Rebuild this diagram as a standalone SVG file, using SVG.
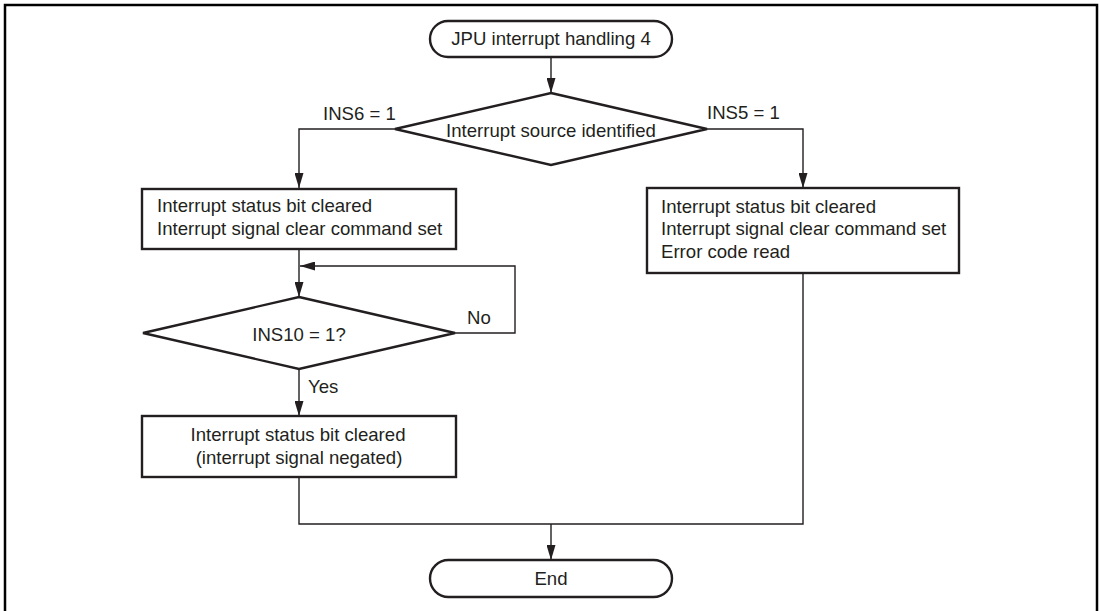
<svg xmlns="http://www.w3.org/2000/svg" width="1100" height="611" viewBox="0 0 1100 611">
<style>
.node{fill:#fff;stroke:#231f20;stroke-width:2.4}
.frame{fill:none;stroke:#000;stroke-width:2.5}
.conn{fill:none;stroke:#231f20;stroke-width:1.4}
text{font-family:"Liberation Sans",Arial,sans-serif;font-size:18.6px;fill:#231f20}
.c{text-anchor:middle}
</style>
<defs>
<marker id="arr" markerUnits="userSpaceOnUse" markerWidth="15" markerHeight="9" refX="15" refY="4.5" orient="auto" viewBox="0 0 15 9">
<path d="M0,0 L15,4.5 L0,9 Z" fill="#231f20"/>
</marker>
</defs>
<rect x="0" y="0" width="1100" height="611" fill="#fff"/>
<path class="frame" d="M5,615 V5 H1097 V615"/>
<g id="connectors">
<path class="conn" d="M551,57 V93" marker-end="url(#arr)"/>
<path class="conn" d="M395,129 H299 V188" marker-end="url(#arr)"/>
<path class="conn" d="M707,129 H803 V188" marker-end="url(#arr)"/>
<path class="conn" d="M299,249 V297" marker-end="url(#arr)"/>
<path class="conn" d="M455,333 H515 V266 H300" marker-end="url(#arr)"/>
<path class="conn" d="M299,369 V416" marker-end="url(#arr)"/>
<path class="conn" d="M299,477 V524 H803 V273"/>
<path class="conn" d="M551,524 V560" marker-end="url(#arr)"/>
<text x="323" y="120">INS6 = 1</text>
<text x="707" y="119">INS5 = 1</text>
<text x="467" y="324">No</text>
<text x="308" y="393">Yes</text>
</g>
<g id="start">
<rect class="node" x="430" y="21" width="242" height="36" rx="18" ry="18"/>
<text class="c" x="551" y="45">JPU interrupt handling 4</text>
</g>
<g id="decision1">
<polygon class="node" points="551,93 707,129 551,165 395,129"/>
<text class="c" x="551" y="137">Interrupt source identified</text>
</g>
<g id="box-left">
<rect class="node" x="142" y="189" width="314" height="60"/>
<text x="157" y="212">Interrupt status bit cleared</text>
<text x="157" y="235">Interrupt signal clear command set</text>
</g>
<g id="box-right">
<rect class="node" x="647" y="188" width="312" height="85"/>
<text x="661" y="213">Interrupt status bit cleared</text>
<text x="661" y="235">Interrupt signal clear command set</text>
<text x="661" y="258">Error code read</text>
</g>
<g id="decision2">
<polygon class="node" points="299,297 455,333 299,369 143,333"/>
<text class="c" x="299" y="341">INS10 = 1?</text>
</g>
<g id="box-bottom">
<rect class="node" x="142" y="416" width="314" height="61"/>
<text class="c" x="298" y="441">Interrupt status bit cleared</text>
<text class="c" x="299" y="464">(interrupt signal negated)</text>
</g>
<g id="end">
<rect class="node" x="430" y="560" width="242" height="37" rx="18.5" ry="18.5"/>
<text class="c" x="551" y="585">End</text>
</g>
</svg>
